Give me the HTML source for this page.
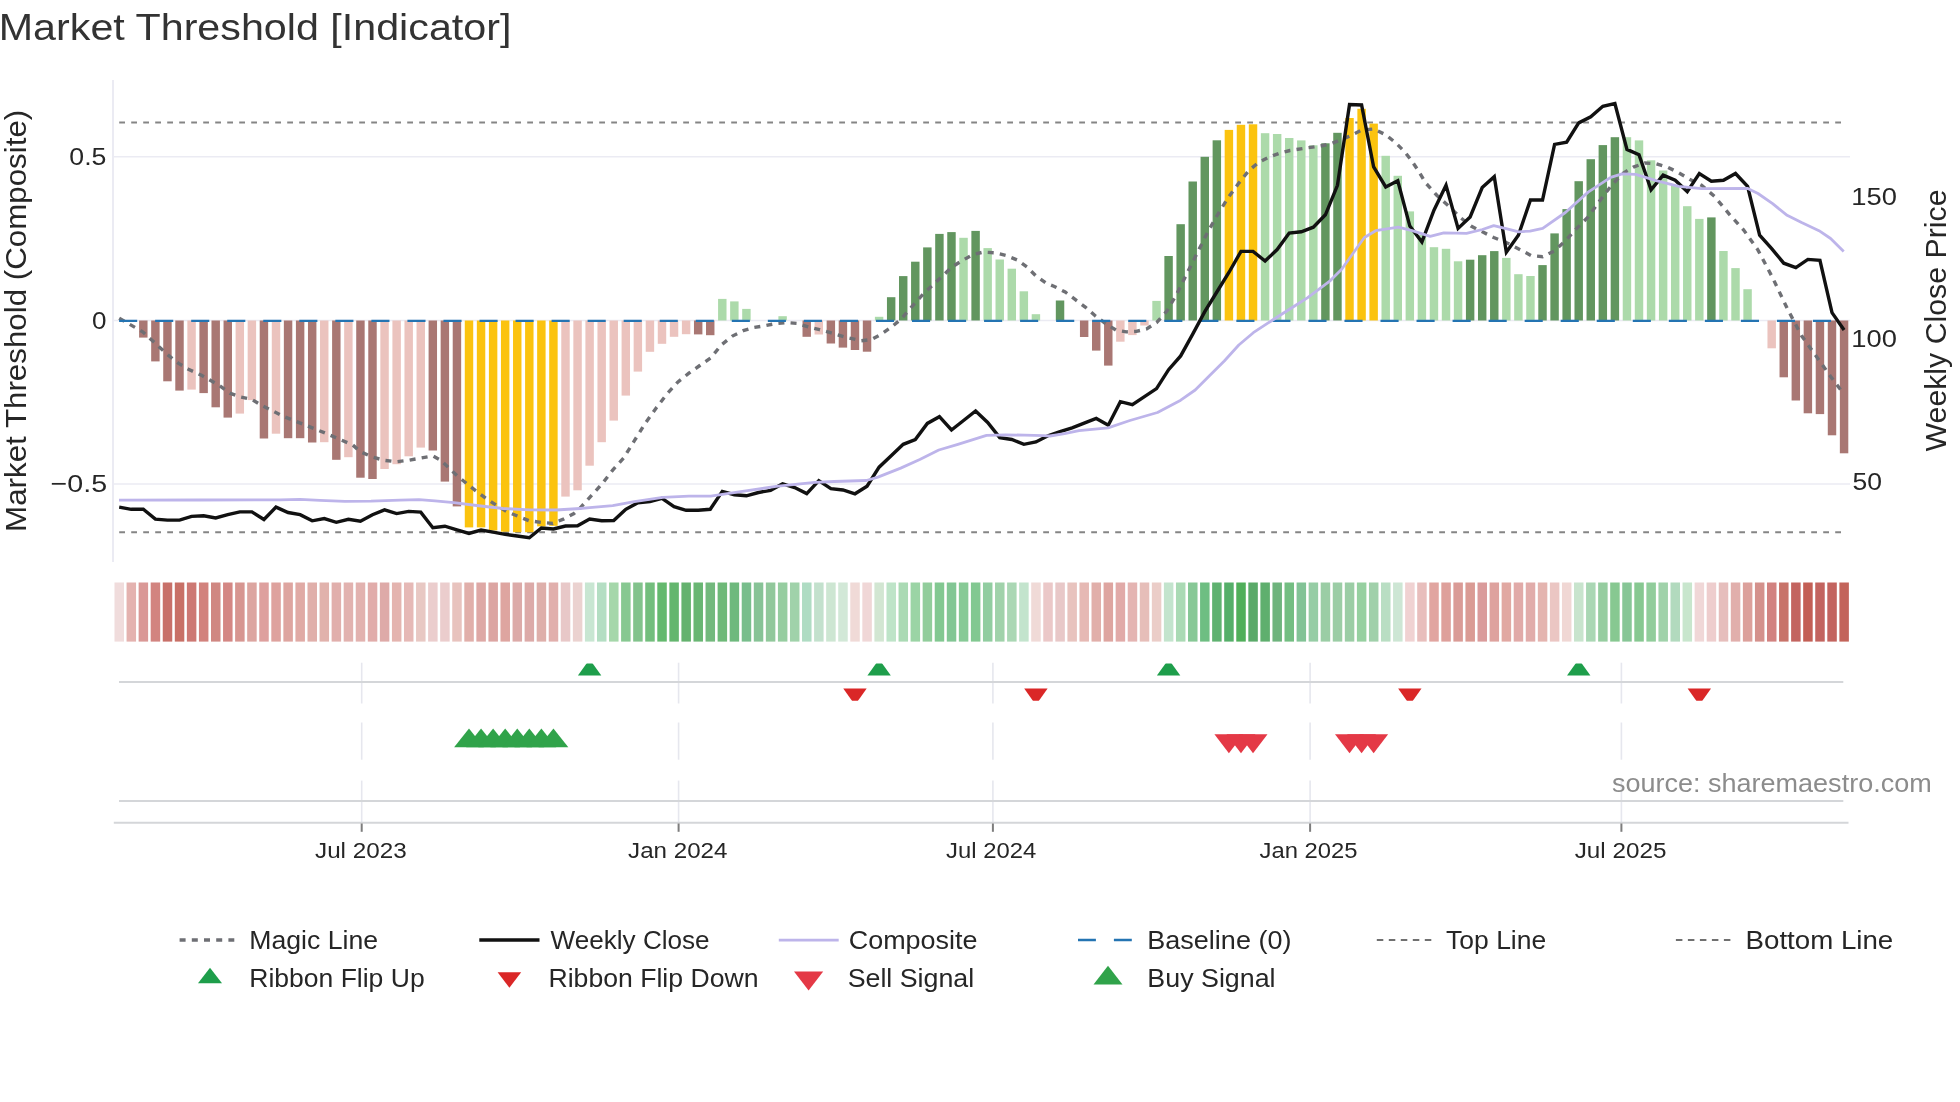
<!DOCTYPE html><html><head><meta charset="utf-8"><style>html,body{margin:0;padding:0;background:#fff;}svg{display:block;will-change:transform;}text{font-family:"Liberation Sans", sans-serif;}.t{opacity:0.999}</style></head><body>
<svg width="1960" height="1102" viewBox="0 0 1960 1102">
<rect width="1960" height="1102" fill="#fff"/>
<defs><clipPath id="c1"><rect x="100" y="663.4" width="1800" height="37.4"/></clipPath></defs>
<text class="t" x="-1.24" y="40" font-size="37" fill="#333" textLength="512.67" lengthAdjust="spacingAndGlyphs">Market Threshold [Indicator]</text>
<line x1="113" y1="156.7" x2="1850" y2="156.7" stroke="#ebebf3" stroke-width="1.6"/>
<line x1="113" y1="320.5" x2="1850" y2="320.5" stroke="#ebebf3" stroke-width="1.6"/>
<line x1="113" y1="484" x2="1850" y2="484" stroke="#ebebf3" stroke-width="1.6"/>
<line x1="113" y1="80" x2="113" y2="562" stroke="#ebebf3" stroke-width="2"/>
<line x1="119.2" y1="122.4" x2="1844" y2="122.4" stroke="#858585" stroke-width="2" stroke-dasharray="5.8 6.2"/>
<line x1="119.2" y1="532.2" x2="1844" y2="532.2" stroke="#858585" stroke-width="2" stroke-dasharray="5.8 6.2"/>
<rect x="139.1" y="320.5" width="8.44" height="17.1" fill="#a97773"/>
<rect x="151.17" y="320.5" width="8.44" height="40.9" fill="#a97773"/>
<rect x="163.23" y="320.5" width="8.44" height="60.8" fill="#a97773"/>
<rect x="175.29" y="320.5" width="8.44" height="70.1" fill="#a97773"/>
<rect x="187.35" y="320.5" width="8.44" height="69.1" fill="#ebc3be"/>
<rect x="199.41" y="320.5" width="8.44" height="72.6" fill="#a97773"/>
<rect x="211.48" y="320.5" width="8.44" height="86.8" fill="#a97773"/>
<rect x="223.54" y="320.5" width="8.44" height="97.1" fill="#a97773"/>
<rect x="235.6" y="320.5" width="8.44" height="93.1" fill="#ebc3be"/>
<rect x="247.66" y="320.5" width="8.44" height="79.6" fill="#ebc3be"/>
<rect x="259.72" y="320.5" width="8.44" height="118" fill="#a97773"/>
<rect x="271.79" y="320.5" width="8.44" height="113.2" fill="#ebc3be"/>
<rect x="283.85" y="320.5" width="8.44" height="117.7" fill="#a97773"/>
<rect x="295.91" y="320.5" width="8.44" height="117.7" fill="#a97773"/>
<rect x="307.97" y="320.5" width="8.44" height="122" fill="#a97773"/>
<rect x="320.03" y="320.5" width="8.44" height="121.7" fill="#ebc3be"/>
<rect x="332.1" y="320.5" width="8.44" height="139.3" fill="#a97773"/>
<rect x="344.16" y="320.5" width="8.44" height="136.7" fill="#ebc3be"/>
<rect x="356.22" y="320.5" width="8.44" height="157.2" fill="#a97773"/>
<rect x="368.28" y="320.5" width="8.44" height="158.5" fill="#a97773"/>
<rect x="380.34" y="320.5" width="8.44" height="148.5" fill="#ebc3be"/>
<rect x="392.41" y="320.5" width="8.44" height="143.7" fill="#ebc3be"/>
<rect x="404.47" y="320.5" width="8.44" height="135.8" fill="#ebc3be"/>
<rect x="416.53" y="320.5" width="8.44" height="127.1" fill="#ebc3be"/>
<rect x="428.59" y="320.5" width="8.44" height="130" fill="#a97773"/>
<rect x="440.65" y="320.5" width="8.44" height="161.1" fill="#a97773"/>
<rect x="452.72" y="320.5" width="8.44" height="185.9" fill="#a97773"/>
<rect x="464.78" y="320.5" width="8.44" height="206.9" fill="#fbc30f"/>
<rect x="476.84" y="320.5" width="8.44" height="206.9" fill="#fbc30f"/>
<rect x="488.9" y="320.5" width="8.44" height="209.9" fill="#fbc30f"/>
<rect x="500.96" y="320.5" width="8.44" height="211.2" fill="#fbc30f"/>
<rect x="513.03" y="320.5" width="8.44" height="211.7" fill="#fbc30f"/>
<rect x="525.09" y="320.5" width="8.44" height="211.7" fill="#fbc30f"/>
<rect x="537.15" y="320.5" width="8.44" height="205.9" fill="#fbc30f"/>
<rect x="549.21" y="320.5" width="8.44" height="205.3" fill="#fbc30f"/>
<rect x="561.27" y="320.5" width="8.44" height="176.1" fill="#ebc3be"/>
<rect x="573.34" y="320.5" width="8.44" height="169.8" fill="#ebc3be"/>
<rect x="585.4" y="320.5" width="8.44" height="145.2" fill="#ebc3be"/>
<rect x="597.46" y="320.5" width="8.44" height="121.7" fill="#ebc3be"/>
<rect x="609.52" y="320.5" width="8.44" height="100.1" fill="#ebc3be"/>
<rect x="621.58" y="320.5" width="8.44" height="75.1" fill="#ebc3be"/>
<rect x="633.65" y="320.5" width="8.44" height="51.1" fill="#ebc3be"/>
<rect x="645.71" y="320.5" width="8.44" height="31.3" fill="#ebc3be"/>
<rect x="657.77" y="320.5" width="8.44" height="23.3" fill="#ebc3be"/>
<rect x="669.83" y="320.5" width="8.44" height="16.3" fill="#ebc3be"/>
<rect x="681.89" y="320.5" width="8.44" height="13.7" fill="#ebc3be"/>
<rect x="693.96" y="320.5" width="8.44" height="13.9" fill="#a97773"/>
<rect x="706.02" y="320.5" width="8.44" height="14.7" fill="#a97773"/>
<rect x="718.08" y="298.9" width="8.44" height="21.6" fill="#acdaaa"/>
<rect x="730.14" y="301.4" width="8.44" height="19.1" fill="#acdaaa"/>
<rect x="742.2" y="308.9" width="8.44" height="11.6" fill="#acdaaa"/>
<rect x="778.39" y="316.2" width="8.44" height="4.3" fill="#acdaaa"/>
<rect x="802.51" y="320.5" width="8.44" height="16.3" fill="#a97773"/>
<rect x="814.58" y="320.5" width="8.44" height="14" fill="#ebc3be"/>
<rect x="826.64" y="320.5" width="8.44" height="23" fill="#a97773"/>
<rect x="838.7" y="320.5" width="8.44" height="27.1" fill="#a97773"/>
<rect x="850.76" y="320.5" width="8.44" height="29.5" fill="#a97773"/>
<rect x="862.82" y="320.5" width="8.44" height="31.2" fill="#a97773"/>
<rect x="874.89" y="316.8" width="8.44" height="3.7" fill="#acdaaa"/>
<rect x="886.95" y="297.2" width="8.44" height="23.3" fill="#62965f"/>
<rect x="899.01" y="276.1" width="8.44" height="44.4" fill="#62965f"/>
<rect x="911.07" y="261.7" width="8.44" height="58.8" fill="#62965f"/>
<rect x="923.13" y="247.4" width="8.44" height="73.1" fill="#62965f"/>
<rect x="935.2" y="233.9" width="8.44" height="86.6" fill="#62965f"/>
<rect x="947.26" y="232.1" width="8.44" height="88.4" fill="#62965f"/>
<rect x="959.32" y="237.8" width="8.44" height="82.7" fill="#acdaaa"/>
<rect x="971.38" y="230.9" width="8.44" height="89.6" fill="#62965f"/>
<rect x="983.44" y="248.1" width="8.44" height="72.4" fill="#acdaaa"/>
<rect x="995.51" y="259.5" width="8.44" height="61" fill="#acdaaa"/>
<rect x="1007.57" y="268.7" width="8.44" height="51.8" fill="#acdaaa"/>
<rect x="1019.63" y="291.3" width="8.44" height="29.2" fill="#acdaaa"/>
<rect x="1031.69" y="314.2" width="8.44" height="6.3" fill="#acdaaa"/>
<rect x="1055.82" y="300.5" width="8.44" height="20" fill="#62965f"/>
<rect x="1079.94" y="320.5" width="8.44" height="16.5" fill="#a97773"/>
<rect x="1092" y="320.5" width="8.44" height="30.1" fill="#a97773"/>
<rect x="1104.06" y="320.5" width="8.44" height="45.1" fill="#a97773"/>
<rect x="1116.13" y="320.5" width="8.44" height="21.2" fill="#ebc3be"/>
<rect x="1128.19" y="320.5" width="8.44" height="14.6" fill="#ebc3be"/>
<rect x="1140.25" y="320.5" width="8.44" height="5" fill="#ebc3be"/>
<rect x="1152.31" y="300.9" width="8.44" height="19.6" fill="#acdaaa"/>
<rect x="1164.37" y="256" width="8.44" height="64.5" fill="#62965f"/>
<rect x="1176.44" y="224.2" width="8.44" height="96.3" fill="#62965f"/>
<rect x="1188.5" y="181.5" width="8.44" height="139" fill="#62965f"/>
<rect x="1200.56" y="156.8" width="8.44" height="163.7" fill="#62965f"/>
<rect x="1212.62" y="140.3" width="8.44" height="180.2" fill="#62965f"/>
<rect x="1224.68" y="129.9" width="8.44" height="190.6" fill="#fbc30f"/>
<rect x="1236.75" y="124.8" width="8.44" height="195.7" fill="#fbc30f"/>
<rect x="1248.81" y="124.3" width="8.44" height="196.2" fill="#fbc30f"/>
<rect x="1260.87" y="133.2" width="8.44" height="187.3" fill="#acdaaa"/>
<rect x="1272.93" y="134" width="8.44" height="186.5" fill="#acdaaa"/>
<rect x="1284.99" y="138" width="8.44" height="182.5" fill="#acdaaa"/>
<rect x="1297.06" y="140.4" width="8.44" height="180.1" fill="#acdaaa"/>
<rect x="1309.12" y="145.3" width="8.44" height="175.2" fill="#acdaaa"/>
<rect x="1321.18" y="143.3" width="8.44" height="177.2" fill="#62965f"/>
<rect x="1333.24" y="132.8" width="8.44" height="187.7" fill="#62965f"/>
<rect x="1345.3" y="118" width="8.44" height="202.5" fill="#fbc30f"/>
<rect x="1357.37" y="108.8" width="8.44" height="211.7" fill="#fbc30f"/>
<rect x="1369.43" y="123.6" width="8.44" height="196.9" fill="#fbc30f"/>
<rect x="1381.49" y="155.8" width="8.44" height="164.7" fill="#acdaaa"/>
<rect x="1393.55" y="175.8" width="8.44" height="144.7" fill="#acdaaa"/>
<rect x="1405.61" y="211.4" width="8.44" height="109.1" fill="#acdaaa"/>
<rect x="1417.68" y="235" width="8.44" height="85.5" fill="#acdaaa"/>
<rect x="1429.74" y="247.2" width="8.44" height="73.3" fill="#acdaaa"/>
<rect x="1441.8" y="248.8" width="8.44" height="71.7" fill="#acdaaa"/>
<rect x="1453.86" y="261.3" width="8.44" height="59.2" fill="#acdaaa"/>
<rect x="1465.92" y="259.7" width="8.44" height="60.8" fill="#62965f"/>
<rect x="1477.99" y="255.2" width="8.44" height="65.3" fill="#62965f"/>
<rect x="1490.05" y="251.1" width="8.44" height="69.4" fill="#62965f"/>
<rect x="1502.11" y="257.9" width="8.44" height="62.6" fill="#acdaaa"/>
<rect x="1514.17" y="274.2" width="8.44" height="46.3" fill="#acdaaa"/>
<rect x="1526.23" y="276" width="8.44" height="44.5" fill="#acdaaa"/>
<rect x="1538.3" y="265.1" width="8.44" height="55.4" fill="#62965f"/>
<rect x="1550.36" y="233.4" width="8.44" height="87.1" fill="#62965f"/>
<rect x="1562.42" y="209.1" width="8.44" height="111.4" fill="#62965f"/>
<rect x="1574.48" y="181.2" width="8.44" height="139.3" fill="#62965f"/>
<rect x="1586.54" y="159.2" width="8.44" height="161.3" fill="#62965f"/>
<rect x="1598.61" y="145.1" width="8.44" height="175.4" fill="#62965f"/>
<rect x="1610.67" y="137.2" width="8.44" height="183.3" fill="#62965f"/>
<rect x="1622.73" y="137.2" width="8.44" height="183.3" fill="#acdaaa"/>
<rect x="1634.79" y="140.4" width="8.44" height="180.1" fill="#acdaaa"/>
<rect x="1646.85" y="160.3" width="8.44" height="160.2" fill="#acdaaa"/>
<rect x="1658.92" y="170.5" width="8.44" height="150" fill="#acdaaa"/>
<rect x="1670.98" y="185.3" width="8.44" height="135.2" fill="#acdaaa"/>
<rect x="1683.04" y="206.2" width="8.44" height="114.3" fill="#acdaaa"/>
<rect x="1695.1" y="218.9" width="8.44" height="101.6" fill="#acdaaa"/>
<rect x="1707.16" y="217.4" width="8.44" height="103.1" fill="#62965f"/>
<rect x="1719.23" y="251" width="8.44" height="69.5" fill="#acdaaa"/>
<rect x="1731.29" y="268.1" width="8.44" height="52.4" fill="#acdaaa"/>
<rect x="1743.35" y="289.2" width="8.44" height="31.3" fill="#acdaaa"/>
<rect x="1767.47" y="320.5" width="8.44" height="27.8" fill="#ebc3be"/>
<rect x="1779.54" y="320.5" width="8.44" height="56.8" fill="#a97773"/>
<rect x="1791.6" y="320.5" width="8.44" height="80" fill="#a97773"/>
<rect x="1803.66" y="320.5" width="8.44" height="92.8" fill="#a97773"/>
<rect x="1815.72" y="320.5" width="8.44" height="93.6" fill="#a97773"/>
<rect x="1827.78" y="320.5" width="8.44" height="114.8" fill="#a97773"/>
<rect x="1839.85" y="320.5" width="8.44" height="132.8" fill="#a97773"/>
<polyline fill="none" stroke="#6e6f74" stroke-width="3.4" stroke-dasharray="6 6.2" points="119.2,318.3 142.7,331.8 168.8,355.7 178.6,363.4 188.4,369.2 201.5,375.3 218.9,385.1 229.8,393.2 240.7,397.1 251.5,399.3 262.4,405.8 284.2,416.7 306,425.4 327.8,434.1 352.8,445 360.2,451.6 372.2,457 384.2,460.3 396.6,461.8 408.6,460.3 420.8,458.1 432.8,455.9 440.8,460.3 456.9,475.5 467.2,484 477.2,491.9 486.8,498.9 496.4,505.2 507,511.8 517.6,516.1 529.2,520.8 541.2,522.4 552.8,523.4 563.4,519.1 574,513.5 580,508.2 590.9,496.2 601.8,484.2 612.7,470.1 623.6,458.1 634.4,440.7 645.3,423.2 656.2,408 667.1,393.8 678,381.9 688.9,373.2 699.8,365.5 710.7,357.9 721.5,344.8 732.4,336.1 743.3,330.7 754.2,327.4 765.1,325.7 776,323.5 786.9,322.6 797.8,323.5 808.7,327 819.5,329.6 830.4,332.7 845.9,337.3 861.3,340.7 871.3,339.6 881.3,334.2 892.1,326.5 901.4,318.8 909.1,309.8 916.8,301 924.5,292.6 933.8,284.1 943,275.6 950.8,267.9 960.8,261.4 972.4,254.8 983.2,252.1 995.5,252.8 1006.3,255.5 1017.1,259.9 1027.1,267.1 1035.6,275.6 1046.4,283.3 1053.8,286.2 1065.2,292 1075.4,299.7 1085.6,307.3 1095.7,316.2 1105.9,323.8 1116.1,330.2 1126.2,331.9 1136.4,331.4 1146.6,328.9 1156.7,322.5 1166.9,311.1 1177.1,293.3 1187.2,273 1197.4,252.6 1207.6,232.3 1217.7,214.5 1227.9,198 1238.1,184 1248.2,171.3 1258.4,162.4 1268.6,157.3 1278.7,153.5 1290,150.5 1307.7,147.8 1319,146.3 1330.4,144 1341.7,139.5 1351,135.5 1361.9,130 1373.9,129 1385.9,134.9 1395.8,142.9 1404.8,151.9 1411.8,160.9 1417.8,169.9 1425.7,183 1437,195.5 1448.3,205.7 1459.7,217 1471,226.1 1482.4,231.8 1493.7,237.5 1505.1,242 1516.4,247.7 1531.3,255.6 1542.7,256.7 1554,251.1 1565.4,240.9 1576.7,228.4 1588.1,217 1599.4,201.2 1610.7,186.4 1622.1,173.9 1633.4,167.1 1644.8,163 1656.1,163.7 1667.5,167.1 1678.8,172.8 1690.1,179.6 1701.5,185.3 1714.5,196.4 1729,213.9 1743.5,229.8 1758,250.1 1772.6,277.7 1787.1,308.2 1801.6,335.8 1816.1,356.1 1830.6,376.4 1843.7,393.8"/>
<line x1="119.1" y1="320.9" x2="1844" y2="320.9" stroke="#2474b2" stroke-width="2.3" stroke-dasharray="18.1 17.94"/>
<polyline fill="none" stroke="#111" stroke-width="3.4" stroke-linejoin="miter" stroke-miterlimit="3" points="119.2,507.1 131.26,509.3 143.32,509.3 155.39,519.1 167.45,520.1 179.51,520.1 191.57,516.4 203.63,515.8 215.7,518 227.76,514.7 239.82,511.9 251.88,511.9 263.94,519.5 276.01,507.1 288.07,512.5 300.13,514.7 312.19,520.8 324.25,518.6 336.32,522.3 348.38,519.3 360.44,521.2 372.5,514.7 384.56,509.9 396.63,513.6 408.69,511.4 420.75,512.1 432.81,527.8 444.87,526.2 456.94,529.9 469,533.5 481.06,530 493.12,532.1 505.18,534.3 517.25,536 529.31,537.7 541.37,528 553.43,529 565.49,526 577.56,525.7 589.62,519.1 601.68,520.8 613.74,520.6 625.8,509.3 637.87,502.7 649.93,501.6 661.99,498.4 674.05,506.6 686.11,510.3 698.18,510.3 710.24,509.3 722.3,491.4 734.36,494.7 746.42,495.8 758.49,492.5 770.55,490.3 782.61,483.8 794.67,487.5 806.73,493.6 818.8,480.7 830.86,488.7 842.92,490 854.98,493.8 867.04,486.2 879.11,467.2 891.17,455.7 903.23,444.3 915.29,439.5 927.35,423.4 939.42,416.7 951.48,430 963.54,420.5 975.6,411 987.66,422.4 999.73,437.6 1011.79,439.5 1023.85,444.3 1035.91,442 1047.97,435.7 1060.04,431.5 1072.1,427.8 1084.16,423.1 1096.22,418.4 1108.28,425.2 1120.35,401.7 1132.41,404.6 1144.47,396.6 1156.53,388.6 1168.59,369.7 1180.66,355.9 1192.72,334.1 1204.78,311.6 1216.84,292 1228.9,272.5 1240.97,251.4 1253.03,251.4 1265.09,261 1277.15,249.6 1289.21,233 1301.28,231.8 1313.34,227.2 1325.4,214.8 1337.46,185.3 1349.52,104.6 1361.59,105 1373.65,167 1385.71,187 1397.77,180.7 1409.83,226.1 1421.9,242 1433.96,210.2 1446.02,185.3 1458.08,228.4 1470.14,217 1482.21,187.5 1494.27,176.7 1506.33,252.2 1518.39,235.2 1530.45,200 1542.52,200 1554.58,144.4 1566.64,142.2 1578.7,122.9 1590.76,116.8 1602.83,106.3 1614.89,103.6 1626.95,149.4 1639.01,154.7 1651.07,189.8 1663.14,175.1 1675.2,180.3 1687.26,191.6 1699.32,173.5 1711.38,181.2 1723.45,180.3 1735.51,173.5 1747.57,186.4 1759.63,235.2 1771.69,248.7 1783.76,263.2 1795.82,267.6 1807.88,259.4 1819.94,260.3 1832,312.6 1844.07,330"/>
<polyline fill="none" stroke="#bdb4ea" stroke-width="2.8" stroke-linejoin="round" points="119,500.2 200,500 280,499.8 300,499.4 320,500.4 345,501.4 371,501.2 400,500.2 419,499.6 435,500.8 453.9,502.7 476.5,505.5 503,508.5 529.6,509.8 556.1,510 580,508.5 589.6,507.7 612.7,505.6 634.4,501.6 662.8,497.3 688.9,496.2 710.7,496.2 732.4,492.9 754.2,489.7 776,486.4 797.8,484.2 815,482.4 834,481.5 866.4,480.5 877.9,477.1 900.7,468.1 919.8,459.5 938.8,450 957.9,444.3 986.5,435.4 1005.5,434.8 1024.6,435.2 1043.6,435.7 1050,436 1064.5,433.6 1079,430.7 1108.1,427.8 1129.9,420.5 1157.5,412.5 1180.7,400.2 1195.2,390 1209.7,375.5 1224.3,361 1238.8,345 1253.3,332.7 1267.8,323.2 1282.4,313.8 1295,305.8 1307.7,297.6 1330.4,280.6 1341.7,269.2 1353.1,253.3 1364.4,237.5 1375.7,230.7 1398.4,227.2 1412,230.7 1430.2,236.3 1443.8,232.9 1466.5,233.4 1482.4,229.5 1493.7,225.7 1505.1,228.4 1518.7,231.8 1530,231.1 1542.7,228.4 1565.4,212.5 1588.1,192.1 1610.7,177.3 1622.1,173.9 1635.7,174.4 1656.1,180.7 1678.8,186.4 1701.5,188.7 1747.3,188.3 1758,193.5 1772.6,203.7 1787.1,215.3 1801.6,222.6 1819,230.7 1830.6,238.5 1843.7,251.6"/>
<rect x="114.5" y="582.5" width="9.5" height="59.1" fill="rgb(240,220,220)"/>
<rect x="126.56" y="582.5" width="9.5" height="59.1" fill="rgb(228,178,175)"/>
<rect x="138.62" y="582.5" width="9.5" height="59.1" fill="rgb(218,152,150)"/>
<rect x="150.69" y="582.5" width="9.5" height="59.1" fill="rgb(210,132,128)"/>
<rect x="162.75" y="582.5" width="9.5" height="59.1" fill="rgb(200,112,105)"/>
<rect x="174.81" y="582.5" width="9.5" height="59.1" fill="rgb(200,112,102)"/>
<rect x="186.87" y="582.5" width="9.5" height="59.1" fill="rgb(205,120,115)"/>
<rect x="198.93" y="582.5" width="9.5" height="59.1" fill="rgb(210,130,125)"/>
<rect x="211" y="582.5" width="9.5" height="59.1" fill="rgb(208,135,130)"/>
<rect x="223.06" y="582.5" width="9.5" height="59.1" fill="rgb(212,135,132)"/>
<rect x="235.12" y="582.5" width="9.5" height="59.1" fill="rgb(215,150,145)"/>
<rect x="247.18" y="582.5" width="9.5" height="59.1" fill="rgb(220,165,160)"/>
<rect x="259.24" y="582.5" width="9.5" height="59.1" fill="rgb(222,160,158)"/>
<rect x="271.31" y="582.5" width="9.5" height="59.1" fill="rgb(222,162,158)"/>
<rect x="283.37" y="582.5" width="9.5" height="59.1" fill="rgb(222,165,160)"/>
<rect x="295.43" y="582.5" width="9.5" height="59.1" fill="rgb(224,170,165)"/>
<rect x="307.49" y="582.5" width="9.5" height="59.1" fill="rgb(224,175,170)"/>
<rect x="319.55" y="582.5" width="9.5" height="59.1" fill="rgb(225,178,172)"/>
<rect x="331.62" y="582.5" width="9.5" height="59.1" fill="rgb(225,175,172)"/>
<rect x="343.68" y="582.5" width="9.5" height="59.1" fill="rgb(226,178,175)"/>
<rect x="355.74" y="582.5" width="9.5" height="59.1" fill="rgb(226,178,175)"/>
<rect x="367.8" y="582.5" width="9.5" height="59.1" fill="rgb(225,172,170)"/>
<rect x="379.86" y="582.5" width="9.5" height="59.1" fill="rgb(222,170,168)"/>
<rect x="391.93" y="582.5" width="9.5" height="59.1" fill="rgb(228,180,175)"/>
<rect x="403.99" y="582.5" width="9.5" height="59.1" fill="rgb(230,185,182)"/>
<rect x="416.05" y="582.5" width="9.5" height="59.1" fill="rgb(232,200,195)"/>
<rect x="428.11" y="582.5" width="9.5" height="59.1" fill="rgb(235,205,205)"/>
<rect x="440.17" y="582.5" width="9.5" height="59.1" fill="rgb(235,205,205)"/>
<rect x="452.24" y="582.5" width="9.5" height="59.1" fill="rgb(232,195,190)"/>
<rect x="464.3" y="582.5" width="9.5" height="59.1" fill="rgb(225,175,170)"/>
<rect x="476.36" y="582.5" width="9.5" height="59.1" fill="rgb(222,168,165)"/>
<rect x="488.42" y="582.5" width="9.5" height="59.1" fill="rgb(220,165,162)"/>
<rect x="500.48" y="582.5" width="9.5" height="59.1" fill="rgb(222,165,160)"/>
<rect x="512.55" y="582.5" width="9.5" height="59.1" fill="rgb(220,170,168)"/>
<rect x="524.61" y="582.5" width="9.5" height="59.1" fill="rgb(220,170,168)"/>
<rect x="536.67" y="582.5" width="9.5" height="59.1" fill="rgb(222,175,170)"/>
<rect x="548.73" y="582.5" width="9.5" height="59.1" fill="rgb(225,175,172)"/>
<rect x="560.79" y="582.5" width="9.5" height="59.1" fill="rgb(232,200,200)"/>
<rect x="572.86" y="582.5" width="9.5" height="59.1" fill="rgb(235,210,208)"/>
<rect x="584.92" y="582.5" width="9.5" height="59.1" fill="rgb(200,230,210)"/>
<rect x="596.98" y="582.5" width="9.5" height="59.1" fill="rgb(180,222,195)"/>
<rect x="609.04" y="582.5" width="9.5" height="59.1" fill="rgb(165,215,170)"/>
<rect x="621.1" y="582.5" width="9.5" height="59.1" fill="rgb(135,200,145)"/>
<rect x="633.17" y="582.5" width="9.5" height="59.1" fill="rgb(130,195,140)"/>
<rect x="645.23" y="582.5" width="9.5" height="59.1" fill="rgb(115,190,125)"/>
<rect x="657.29" y="582.5" width="9.5" height="59.1" fill="rgb(100,185,110)"/>
<rect x="669.35" y="582.5" width="9.5" height="59.1" fill="rgb(100,182,110)"/>
<rect x="681.41" y="582.5" width="9.5" height="59.1" fill="rgb(100,178,110)"/>
<rect x="693.48" y="582.5" width="9.5" height="59.1" fill="rgb(105,182,115)"/>
<rect x="705.54" y="582.5" width="9.5" height="59.1" fill="rgb(115,185,125)"/>
<rect x="717.6" y="582.5" width="9.5" height="59.1" fill="rgb(110,185,120)"/>
<rect x="729.66" y="582.5" width="9.5" height="59.1" fill="rgb(110,185,125)"/>
<rect x="741.72" y="582.5" width="9.5" height="59.1" fill="rgb(120,190,140)"/>
<rect x="753.79" y="582.5" width="9.5" height="59.1" fill="rgb(135,195,150)"/>
<rect x="765.85" y="582.5" width="9.5" height="59.1" fill="rgb(145,200,155)"/>
<rect x="777.91" y="582.5" width="9.5" height="59.1" fill="rgb(150,205,160)"/>
<rect x="789.97" y="582.5" width="9.5" height="59.1" fill="rgb(160,210,170)"/>
<rect x="802.03" y="582.5" width="9.5" height="59.1" fill="rgb(175,220,195)"/>
<rect x="814.1" y="582.5" width="9.5" height="59.1" fill="rgb(195,225,205)"/>
<rect x="826.16" y="582.5" width="9.5" height="59.1" fill="rgb(205,230,210)"/>
<rect x="838.22" y="582.5" width="9.5" height="59.1" fill="rgb(210,232,215)"/>
<rect x="850.28" y="582.5" width="9.5" height="59.1" fill="rgb(240,218,215)"/>
<rect x="862.34" y="582.5" width="9.5" height="59.1" fill="rgb(240,215,215)"/>
<rect x="874.41" y="582.5" width="9.5" height="59.1" fill="rgb(210,230,210)"/>
<rect x="886.47" y="582.5" width="9.5" height="59.1" fill="rgb(190,228,200)"/>
<rect x="898.53" y="582.5" width="9.5" height="59.1" fill="rgb(170,218,180)"/>
<rect x="910.59" y="582.5" width="9.5" height="59.1" fill="rgb(155,212,165)"/>
<rect x="922.65" y="582.5" width="9.5" height="59.1" fill="rgb(145,205,155)"/>
<rect x="934.72" y="582.5" width="9.5" height="59.1" fill="rgb(130,200,145)"/>
<rect x="946.78" y="582.5" width="9.5" height="59.1" fill="rgb(130,198,148)"/>
<rect x="958.84" y="582.5" width="9.5" height="59.1" fill="rgb(135,202,150)"/>
<rect x="970.9" y="582.5" width="9.5" height="59.1" fill="rgb(130,200,145)"/>
<rect x="982.96" y="582.5" width="9.5" height="59.1" fill="rgb(145,205,160)"/>
<rect x="995.03" y="582.5" width="9.5" height="59.1" fill="rgb(160,210,170)"/>
<rect x="1007.09" y="582.5" width="9.5" height="59.1" fill="rgb(170,215,180)"/>
<rect x="1019.15" y="582.5" width="9.5" height="59.1" fill="rgb(195,228,205)"/>
<rect x="1031.21" y="582.5" width="9.5" height="59.1" fill="rgb(240,218,215)"/>
<rect x="1043.27" y="582.5" width="9.5" height="59.1" fill="rgb(235,200,200)"/>
<rect x="1055.34" y="582.5" width="9.5" height="59.1" fill="rgb(232,200,200)"/>
<rect x="1067.4" y="582.5" width="9.5" height="59.1" fill="rgb(232,195,190)"/>
<rect x="1079.46" y="582.5" width="9.5" height="59.1" fill="rgb(230,185,180)"/>
<rect x="1091.52" y="582.5" width="9.5" height="59.1" fill="rgb(225,175,170)"/>
<rect x="1103.58" y="582.5" width="9.5" height="59.1" fill="rgb(222,165,160)"/>
<rect x="1115.65" y="582.5" width="9.5" height="59.1" fill="rgb(225,170,168)"/>
<rect x="1127.71" y="582.5" width="9.5" height="59.1" fill="rgb(228,180,178)"/>
<rect x="1139.77" y="582.5" width="9.5" height="59.1" fill="rgb(230,190,185)"/>
<rect x="1151.83" y="582.5" width="9.5" height="59.1" fill="rgb(235,205,200)"/>
<rect x="1163.89" y="582.5" width="9.5" height="59.1" fill="rgb(195,228,205)"/>
<rect x="1175.96" y="582.5" width="9.5" height="59.1" fill="rgb(170,218,180)"/>
<rect x="1188.02" y="582.5" width="9.5" height="59.1" fill="rgb(135,200,150)"/>
<rect x="1200.08" y="582.5" width="9.5" height="59.1" fill="rgb(110,190,130)"/>
<rect x="1212.14" y="582.5" width="9.5" height="59.1" fill="rgb(95,178,112)"/>
<rect x="1224.2" y="582.5" width="9.5" height="59.1" fill="rgb(85,175,105)"/>
<rect x="1236.27" y="582.5" width="9.5" height="59.1" fill="rgb(80,175,90)"/>
<rect x="1248.33" y="582.5" width="9.5" height="59.1" fill="rgb(90,170,105)"/>
<rect x="1260.39" y="582.5" width="9.5" height="59.1" fill="rgb(95,175,110)"/>
<rect x="1272.45" y="582.5" width="9.5" height="59.1" fill="rgb(110,180,125)"/>
<rect x="1284.51" y="582.5" width="9.5" height="59.1" fill="rgb(115,190,130)"/>
<rect x="1296.58" y="582.5" width="9.5" height="59.1" fill="rgb(130,195,150)"/>
<rect x="1308.64" y="582.5" width="9.5" height="59.1" fill="rgb(150,205,165)"/>
<rect x="1320.7" y="582.5" width="9.5" height="59.1" fill="rgb(155,205,165)"/>
<rect x="1332.76" y="582.5" width="9.5" height="59.1" fill="rgb(155,205,165)"/>
<rect x="1344.82" y="582.5" width="9.5" height="59.1" fill="rgb(155,205,165)"/>
<rect x="1356.89" y="582.5" width="9.5" height="59.1" fill="rgb(150,208,160)"/>
<rect x="1368.95" y="582.5" width="9.5" height="59.1" fill="rgb(160,208,170)"/>
<rect x="1381.01" y="582.5" width="9.5" height="59.1" fill="rgb(185,222,195)"/>
<rect x="1393.07" y="582.5" width="9.5" height="59.1" fill="rgb(205,230,212)"/>
<rect x="1405.13" y="582.5" width="9.5" height="59.1" fill="rgb(240,210,210)"/>
<rect x="1417.2" y="582.5" width="9.5" height="59.1" fill="rgb(232,190,188)"/>
<rect x="1429.26" y="582.5" width="9.5" height="59.1" fill="rgb(225,165,160)"/>
<rect x="1441.32" y="582.5" width="9.5" height="59.1" fill="rgb(222,160,155)"/>
<rect x="1453.38" y="582.5" width="9.5" height="59.1" fill="rgb(218,155,150)"/>
<rect x="1465.44" y="582.5" width="9.5" height="59.1" fill="rgb(218,155,148)"/>
<rect x="1477.51" y="582.5" width="9.5" height="59.1" fill="rgb(218,155,155)"/>
<rect x="1489.57" y="582.5" width="9.5" height="59.1" fill="rgb(222,162,158)"/>
<rect x="1501.63" y="582.5" width="9.5" height="59.1" fill="rgb(225,168,162)"/>
<rect x="1513.69" y="582.5" width="9.5" height="59.1" fill="rgb(225,170,168)"/>
<rect x="1525.75" y="582.5" width="9.5" height="59.1" fill="rgb(225,172,170)"/>
<rect x="1537.82" y="582.5" width="9.5" height="59.1" fill="rgb(228,180,175)"/>
<rect x="1549.88" y="582.5" width="9.5" height="59.1" fill="rgb(235,198,195)"/>
<rect x="1561.94" y="582.5" width="9.5" height="59.1" fill="rgb(240,215,212)"/>
<rect x="1574" y="582.5" width="9.5" height="59.1" fill="rgb(200,228,205)"/>
<rect x="1586.06" y="582.5" width="9.5" height="59.1" fill="rgb(170,215,180)"/>
<rect x="1598.13" y="582.5" width="9.5" height="59.1" fill="rgb(150,205,160)"/>
<rect x="1610.19" y="582.5" width="9.5" height="59.1" fill="rgb(135,200,145)"/>
<rect x="1622.25" y="582.5" width="9.5" height="59.1" fill="rgb(135,198,150)"/>
<rect x="1634.31" y="582.5" width="9.5" height="59.1" fill="rgb(135,200,145)"/>
<rect x="1646.37" y="582.5" width="9.5" height="59.1" fill="rgb(145,205,155)"/>
<rect x="1658.44" y="582.5" width="9.5" height="59.1" fill="rgb(160,210,170)"/>
<rect x="1670.5" y="582.5" width="9.5" height="59.1" fill="rgb(178,218,190)"/>
<rect x="1682.56" y="582.5" width="9.5" height="59.1" fill="rgb(200,230,205)"/>
<rect x="1694.62" y="582.5" width="9.5" height="59.1" fill="rgb(240,215,215)"/>
<rect x="1706.68" y="582.5" width="9.5" height="59.1" fill="rgb(238,205,205)"/>
<rect x="1718.75" y="582.5" width="9.5" height="59.1" fill="rgb(230,190,188)"/>
<rect x="1730.81" y="582.5" width="9.5" height="59.1" fill="rgb(225,175,172)"/>
<rect x="1742.87" y="582.5" width="9.5" height="59.1" fill="rgb(220,160,155)"/>
<rect x="1754.93" y="582.5" width="9.5" height="59.1" fill="rgb(212,145,140)"/>
<rect x="1766.99" y="582.5" width="9.5" height="59.1" fill="rgb(210,130,128)"/>
<rect x="1779.06" y="582.5" width="9.5" height="59.1" fill="rgb(200,115,105)"/>
<rect x="1791.12" y="582.5" width="9.5" height="59.1" fill="rgb(195,100,95)"/>
<rect x="1803.18" y="582.5" width="9.5" height="59.1" fill="rgb(195,95,85)"/>
<rect x="1815.24" y="582.5" width="9.5" height="59.1" fill="rgb(195,100,95)"/>
<rect x="1827.3" y="582.5" width="9.5" height="59.1" fill="rgb(195,100,95)"/>
<rect x="1839.37" y="582.5" width="9.5" height="59.1" fill="rgb(195,100,90)"/>
<line x1="361.7" y1="662.7" x2="361.7" y2="703.5" stroke="#e6e7ee" stroke-width="1.6"/>
<line x1="361.7" y1="722.5" x2="361.7" y2="759.7" stroke="#e6e7ee" stroke-width="1.6"/>
<line x1="361.7" y1="780.6" x2="361.7" y2="822.3" stroke="#e6e7ee" stroke-width="1.6"/>
<line x1="678.6" y1="662.7" x2="678.6" y2="703.5" stroke="#e6e7ee" stroke-width="1.6"/>
<line x1="678.6" y1="722.5" x2="678.6" y2="759.7" stroke="#e6e7ee" stroke-width="1.6"/>
<line x1="678.6" y1="780.6" x2="678.6" y2="822.3" stroke="#e6e7ee" stroke-width="1.6"/>
<line x1="992.9" y1="662.7" x2="992.9" y2="703.5" stroke="#e6e7ee" stroke-width="1.6"/>
<line x1="992.9" y1="722.5" x2="992.9" y2="759.7" stroke="#e6e7ee" stroke-width="1.6"/>
<line x1="992.9" y1="780.6" x2="992.9" y2="822.3" stroke="#e6e7ee" stroke-width="1.6"/>
<line x1="1310.1" y1="662.7" x2="1310.1" y2="703.5" stroke="#e6e7ee" stroke-width="1.6"/>
<line x1="1310.1" y1="722.5" x2="1310.1" y2="759.7" stroke="#e6e7ee" stroke-width="1.6"/>
<line x1="1310.1" y1="780.6" x2="1310.1" y2="822.3" stroke="#e6e7ee" stroke-width="1.6"/>
<line x1="1621.4" y1="662.7" x2="1621.4" y2="703.5" stroke="#e6e7ee" stroke-width="1.6"/>
<line x1="1621.4" y1="722.5" x2="1621.4" y2="759.7" stroke="#e6e7ee" stroke-width="1.6"/>
<line x1="1621.4" y1="780.6" x2="1621.4" y2="822.3" stroke="#e6e7ee" stroke-width="1.6"/>
<line x1="119" y1="682.1" x2="1843.3" y2="682.1" stroke="#d4d6d9" stroke-width="2"/>
<line x1="119" y1="801.1" x2="1843.3" y2="801.1" stroke="#d4d6d9" stroke-width="2"/>
<line x1="113.8" y1="822.7" x2="1848.5" y2="822.7" stroke="#d4d6d9" stroke-width="2"/>
<line x1="361.7" y1="823.5" x2="361.7" y2="831.8" stroke="#7d7d7d" stroke-width="2"/>
<line x1="678.6" y1="823.5" x2="678.6" y2="831.8" stroke="#7d7d7d" stroke-width="2"/>
<line x1="992.9" y1="823.5" x2="992.9" y2="831.8" stroke="#7d7d7d" stroke-width="2"/>
<line x1="1310.1" y1="823.5" x2="1310.1" y2="831.8" stroke="#7d7d7d" stroke-width="2"/>
<line x1="1621.4" y1="823.5" x2="1621.4" y2="831.8" stroke="#7d7d7d" stroke-width="2"/>
<g clip-path="url(#c1)">
<polygon points="589.62,659.2 577.92,675.6 601.32,675.6" fill="#1e9e4b"/>
<polygon points="879.11,659.2 867.41,675.6 890.81,675.6" fill="#1e9e4b"/>
<polygon points="1168.59,659.2 1156.89,675.6 1180.29,675.6" fill="#1e9e4b"/>
<polygon points="1578.7,659.2 1567,675.6 1590.4,675.6" fill="#1e9e4b"/>
<polygon points="843.28,688.6 866.68,688.6 854.98,705" fill="#da2727"/>
<polygon points="1024.21,688.6 1047.61,688.6 1035.91,705" fill="#da2727"/>
<polygon points="1398.13,688.6 1421.53,688.6 1409.83,705" fill="#da2727"/>
<polygon points="1687.62,688.6 1711.02,688.6 1699.32,705" fill="#da2727"/>
</g>
<polygon points="469,728.5 454.1,747.3 483.9,747.3" fill="#30a34a"/>
<polygon points="481.06,728.5 466.16,747.3 495.96,747.3" fill="#30a34a"/>
<polygon points="493.12,728.5 478.22,747.3 508.02,747.3" fill="#30a34a"/>
<polygon points="505.18,728.5 490.28,747.3 520.08,747.3" fill="#30a34a"/>
<polygon points="517.25,728.5 502.35,747.3 532.15,747.3" fill="#30a34a"/>
<polygon points="529.31,728.5 514.41,747.3 544.21,747.3" fill="#30a34a"/>
<polygon points="541.37,728.5 526.47,747.3 556.27,747.3" fill="#30a34a"/>
<polygon points="553.43,728.5 538.53,747.3 568.33,747.3" fill="#30a34a"/>
<polygon points="1214.4,734.3 1243.4,734.3 1228.9,753.3" fill="#e43946"/>
<polygon points="1226.47,734.3 1255.47,734.3 1240.97,753.3" fill="#e43946"/>
<polygon points="1238.53,734.3 1267.53,734.3 1253.03,753.3" fill="#e43946"/>
<polygon points="1335.02,734.3 1364.02,734.3 1349.52,753.3" fill="#e43946"/>
<polygon points="1347.09,734.3 1376.09,734.3 1361.59,753.3" fill="#e43946"/>
<polygon points="1359.15,734.3 1388.15,734.3 1373.65,753.3" fill="#e43946"/>
<text class="t" x="1611.92" y="791.7" font-size="25" fill="#8c8c8c" textLength="319.79" lengthAdjust="spacingAndGlyphs">source: sharemaestro.com</text>
<text class="t" x="69.32" y="164.7" font-size="24.6" fill="#262626" textLength="37.09" lengthAdjust="spacingAndGlyphs">0.5</text>
<text class="t" x="91.94" y="328.7" font-size="24.6" fill="#262626" textLength="14.49" lengthAdjust="spacingAndGlyphs">0</text>
<text class="t" x="50.64" y="492.3" font-size="24.6" fill="#262626" textLength="56.48" lengthAdjust="spacingAndGlyphs">−0.5</text>
<text class="t" x="1851.38" y="204.8" font-size="24.6" fill="#262626" textLength="45.58" lengthAdjust="spacingAndGlyphs">150</text>
<text class="t" x="1851.38" y="347.3" font-size="24.6" fill="#262626" textLength="45.58" lengthAdjust="spacingAndGlyphs">100</text>
<text class="t" x="1852.52" y="489.8" font-size="24.6" fill="#262626" textLength="29.46" lengthAdjust="spacingAndGlyphs">50</text>
<text class="t" transform="translate(26,529.8) rotate(-90)" x="-2.14" y="0" font-size="29.3" fill="#262626" textLength="422.19" lengthAdjust="spacingAndGlyphs">Market Threshold (Composite)</text>
<text class="t" transform="translate(1945.8,451.5) rotate(-90)" x="0" y="0" font-size="29" fill="#262626" textLength="262.03" lengthAdjust="spacingAndGlyphs">Weekly Close Price</text>
<text class="t" x="315" y="858" font-size="22" fill="#262626" textLength="91.71" lengthAdjust="spacingAndGlyphs">Jul 2023</text>
<text class="t" x="628.1" y="858" font-size="22" fill="#262626" textLength="99.38" lengthAdjust="spacingAndGlyphs">Jan 2024</text>
<text class="t" x="946.12" y="858" font-size="22" fill="#262626" textLength="90.19" lengthAdjust="spacingAndGlyphs">Jul 2024</text>
<text class="t" x="1259.52" y="858" font-size="22" fill="#262626" textLength="98.06" lengthAdjust="spacingAndGlyphs">Jan 2025</text>
<text class="t" x="1574.7" y="858" font-size="22" fill="#262626" textLength="91.71" lengthAdjust="spacingAndGlyphs">Jul 2025</text>
<text class="t" x="249.27" y="949.4" font-size="25" fill="#262626" textLength="128.8" lengthAdjust="spacingAndGlyphs">Magic Line</text>
<text class="t" x="550.6" y="949.4" font-size="25" fill="#262626" textLength="159.04" lengthAdjust="spacingAndGlyphs">Weekly Close</text>
<text class="t" x="848.72" y="949.4" font-size="25" fill="#262626" textLength="128.69" lengthAdjust="spacingAndGlyphs">Composite</text>
<text class="t" x="1147.34" y="949.4" font-size="25" fill="#262626" textLength="144.08" lengthAdjust="spacingAndGlyphs">Baseline (0)</text>
<text class="t" x="1446.14" y="949.4" font-size="25" fill="#262626" textLength="100.08" lengthAdjust="spacingAndGlyphs">Top Line</text>
<text class="t" x="1745.59" y="949.4" font-size="25" fill="#262626" textLength="147.69" lengthAdjust="spacingAndGlyphs">Bottom Line</text>
<text class="t" x="249.28" y="986.9" font-size="25" fill="#262626" textLength="175.36" lengthAdjust="spacingAndGlyphs">Ribbon Flip Up</text>
<text class="t" x="548.47" y="986.9" font-size="25" fill="#262626" textLength="210.04" lengthAdjust="spacingAndGlyphs">Ribbon Flip Down</text>
<text class="t" x="847.66" y="986.9" font-size="25" fill="#262626" textLength="126.53" lengthAdjust="spacingAndGlyphs">Sell Signal</text>
<text class="t" x="1147.36" y="986.9" font-size="25" fill="#262626" textLength="128.19" lengthAdjust="spacingAndGlyphs">Buy Signal</text>
<line x1="179.6" y1="940" x2="234.3" y2="940" stroke="#6e6f74" stroke-width="3.6" stroke-dasharray="6 6.2"/>
<line x1="479.3" y1="940" x2="539.5" y2="940" stroke="#111" stroke-width="3.4"/>
<line x1="778.8" y1="940.2" x2="838.7" y2="940.2" stroke="#bdb4ea" stroke-width="2.8"/>
<line x1="1078" y1="940" x2="1131.8" y2="940" stroke="#2474b2" stroke-width="2.6" stroke-dasharray="17.9 18"/>
<line x1="1376.8" y1="940" x2="1432" y2="940" stroke="#707070" stroke-width="2" stroke-dasharray="6.5 5.5"/>
<line x1="1675.9" y1="940" x2="1731.3" y2="940" stroke="#707070" stroke-width="2" stroke-dasharray="6.5 5.5"/>
<polygon points="210,967.7 198,983.2 222,983.2" fill="#1e9e4b"/>
<polygon points="497.6,972.2 521.2,972.2 509.4,987.8" fill="#da2727"/>
<polygon points="794,971.4 823.2,971.4 808.6,990.5" fill="#e43946"/>
<polygon points="1108,965.7 1093.5,984.5 1122.5,984.5" fill="#30a34a"/>
</svg></body></html>
